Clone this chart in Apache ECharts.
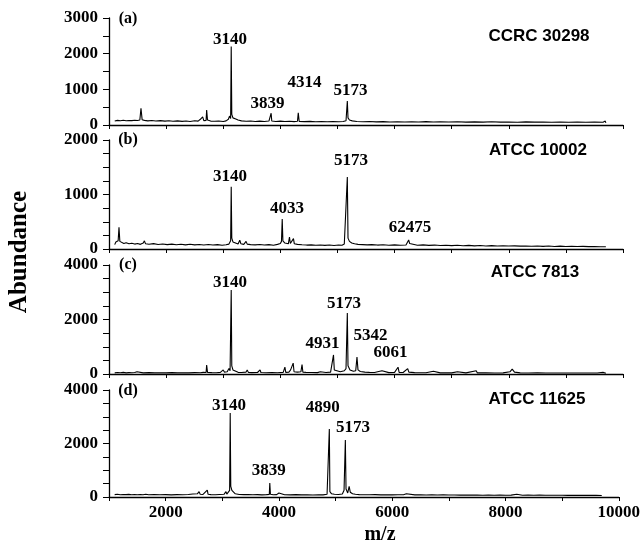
<!DOCTYPE html>
<html>
<head>
<meta charset="utf-8">
<script src="https://cdn.jsdelivr.net/npm/echarts@6/dist/echarts.min.js"></script>
<style>html,body{margin:0;padding:0;background:#fff;}#c{width:643px;height:546px;}</style>
</head>
<body>
<div id="c"></div>
<script>
// ---- data ----
const strains = ["CCRC 30298", "ATCC 10002", "ATCC 7813", "ATCC 11625"];
const panelTags = ["(a)", "(b)", "(c)", "(d)"];
const yMaxes = [3000, 2000, 4000, 4000];
const yTickSteps = [500, 250, 500, 500];
const yLabelSteps = [1000, 1000, 2000, 2000];
const xTicks = [2000, 4000, 6000, 8000, 10000];

const specA = [[1100,110],[1150,130],[1200,120],[1250,135],[1300,118],[1350,128],[1400,122],[1450,132],[1500,125],[1540,140],[1560,470],[1580,150],[1620,130],[1680,115],[1750,125],[1820,110],[1900,122],[1980,108],[2050,118],[2120,105],[2200,115],[2280,102],[2350,112],[2420,100],[2500,118],[2560,108],[2600,160],[2620,110],[2640,230],[2660,120],[2700,130],[2710,420],[2725,140],[2780,110],[2850,105],[2920,112],[3000,100],[3050,115],[3090,160],[3110,250],[3130,180],[3140,2200],[3150,300],[3170,200],[3200,250],[3220,170],[3260,140],[3320,115],[3400,105],[3480,112],[3560,100],[3640,108],[3720,98],[3800,110],[3830,105],[3839,330],[3850,110],[3920,100],[4000,108],[4080,96],[4160,104],[4240,95],[4300,105],[4314,340],[4330,100],[4420,95],[4520,102],[4620,92],[4720,100],[4820,90],[4920,98],[5020,92],[5100,100],[5150,120],[5173,670],[5185,200],[5210,140],[5260,115],[5340,100],[5450,92],[5560,98],[5680,88],[5800,95],[5920,86],[6050,92],[6180,84],[6300,90],[6420,85],[6550,95],[6680,82],[6800,90],[6950,84],[7100,92],[7250,80],[7400,88],[7550,82],[7700,90],[7850,80],[8000,86],[8150,78],[8300,88],[8450,80],[8600,85],[8750,78],[8900,84],[9050,76],[9200,82],[9350,76],[9500,80],[9650,75],[9690,110],[9700,60]];

const specB = [[1100,80],[1120,130],[1140,110],[1160,150],[1175,400],[1190,140],[1220,120],[1260,100],[1300,115],[1350,95],[1400,105],[1450,90],[1500,100],[1550,85],[1600,110],[1620,150],[1640,95],[1700,88],[1780,98],[1860,82],[1940,92],[2020,80],[2100,90],[2180,78],[2260,88],[2340,76],[2420,86],[2500,75],[2580,84],[2660,74],[2740,82],[2820,72],[2900,80],[2980,70],[3050,78],[3100,90],[3130,150],[3140,1140],[3150,200],[3170,130],[3200,100],[3260,90],[3290,160],[3310,95],[3360,85],[3400,140],[3420,90],[3480,80],[3560,75],[3640,82],[3720,72],[3800,80],[3880,70],[3950,85],[4000,100],[4020,140],[4033,550],[4045,150],[4080,110],[4140,95],[4160,220],[4175,100],[4210,90],[4230,190],[4245,95],[4300,85],[4380,78],[4460,72],[4540,76],[4620,68],[4700,74],[4780,66],[4860,72],[4940,65],[5020,72],[5080,70],[5120,90],[5150,120],[5173,1320],[5185,200],[5210,140],[5250,110],[5300,95],[5360,85],[5440,80],[5520,75],[5600,80],[5700,72],[5800,78],[5900,70],[6000,75],[6100,68],[6200,74],[6230,90],[6247,165],[6265,100],[6300,80],[6400,70],[6500,75],[6600,66],[6700,72],[6800,64],[6900,70],[7000,62],[7100,68],[7200,60],[7300,66],[7400,58],[7500,64],[7600,56],[7700,62],[7800,55],[7900,60],[8000,54],[8100,58],[8200,52],[8300,56],[8400,50],[8500,55],[8600,48],[8700,54],[8800,47],[8900,52],[9000,46],[9100,50],[9200,45],[9300,48],[9400,44],[9500,46],[9600,42],[9700,40]];

const specC = [[1100,40],[1150,55],[1200,45],[1250,60],[1300,42],[1350,50],[1400,45],[1450,55],[1490,80],[1510,45],[1600,42],[1700,50],[1800,40],[1900,48],[2000,42],[2100,50],[2200,40],[2300,46],[2400,42],[2500,50],[2600,45],[2650,60],[2700,55],[2710,330],[2725,60],[2800,50],[2880,45],[2950,60],[3000,150],[3020,70],[3070,80],[3100,200],[3120,120],[3140,3080],[3150,300],[3170,150],[3200,90],[3260,60],[3320,55],[3400,70],[3420,150],[3440,60],[3500,50],[3600,55],[3645,150],[3660,55],[3750,45],[3850,50],[3950,45],[4050,60],[4080,250],[4095,60],[4150,70],[4180,150],[4200,80],[4225,400],[4240,80],[4300,70],[4330,120],[4360,80],[4380,350],[4395,70],[4450,60],[4550,55],[4650,50],[4700,80],[4720,50],[4800,55],[4880,70],[4910,120],[4931,700],[4945,150],[4980,100],[5050,80],[5120,120],[5150,200],[5173,2240],[5185,300],[5220,150],[5280,100],[5320,120],[5342,620],[5360,150],[5400,90],[5480,70],[5560,60],[5650,55],[5780,120],[5800,55],[5900,50],[6000,60],[6061,250],[6080,60],[6150,55],[6230,200],[6250,70],[6350,50],[6450,48],[6550,45],[6680,100],[6700,45],[6800,42],[6900,45],[7000,40],[7100,80],[7120,40],[7250,42],[7430,120],[7450,40],[7600,42],[7750,38],[7900,40],[8020,80],[8060,180],[8100,70],[8200,40],[8350,38],[8500,40],[8650,36],[8800,38],[8950,35],[9100,38],[9250,34],[9400,36],[9550,34],[9650,60],[9700,30]];

const specD = [[1100,90],[1150,100],[1200,85],[1250,95],[1300,88],[1350,98],[1400,84],[1450,94],[1500,86],[1550,96],[1600,82],[1650,105],[1700,85],[1800,92],[1900,82],[2000,90],[2100,80],[2200,88],[2300,82],[2400,92],[2480,110],[2500,85],[2560,120],[2590,200],[2610,100],[2640,150],[2660,95],[2735,260],[2750,100],[2800,90],[2880,85],[2950,95],[3030,100],[3065,200],[3080,110],[3110,150],[3130,250],[3140,3140],[3150,400],[3170,250],[3200,200],[3230,120],[3300,95],[3380,88],[3460,92],[3540,82],[3620,90],[3700,80],[3780,88],[3830,95],[3839,520],[3850,100],[3900,85],[3960,90],[4000,150],[4020,90],[4100,85],[4200,80],[4300,88],[4400,78],[4500,85],[4600,76],[4700,84],[4780,80],[4850,100],[4870,150],[4890,2540],[4900,200],[4930,120],[4980,100],[5050,95],[5120,110],[5150,250],[5173,2130],[5185,300],[5200,350],[5215,150],[5240,400],[5260,180],[5300,120],[5350,100],[5420,90],[5500,85],[5600,82],[5700,88],[5800,80],[5900,85],[6000,78],[6100,82],[6200,85],[6250,120],[6280,85],[6400,78],[6500,82],[6600,75],[6700,80],[6800,74],[6900,78],[7000,72],[7100,76],[7200,70],[7300,75],[7400,70],[7500,74],[7600,68],[7700,72],[7800,68],[7900,72],[8000,66],[8100,70],[8200,100],[8230,70],[8300,68],[8400,72],[8500,66],[8600,70],[8700,64],[8800,68],[8900,63],[9000,66],[9100,62],[9200,65],[9300,60],[9400,64],[9500,60],[9600,62],[9700,58]];

// peak annotations: [text, m/z, abundance] (label centre, data units)
const annotA = [["3140",3119,2383],["3839",3777,589],["4314",4424,1177],["5173",5229,953]];
const annotB = [["3140",3119,1321],["4033",4117,734],["5173",5238,1615],["62475",6270,394]];
const annotC = [["3140",3119,3339],["4931",4740,1101],["5173",5116,2569],["5342",5580,1394],["6061",5930,789]];
const annotD = [["3140",3119,3402],["3839",3820,972],["4890",4775,3327],["5173",5310,2598]];

// ---- layout / style ----
const spectra = [specA, specB, specC, specD];
const annots = [annotA, annotB, annotC, annotD];
const gridTops = [18, 140, 265, 390];
const gridHeights = [107, 109, 109, 107];
const GL = 109, GW = 514;
const SERIF = '"Liberation Serif","Times New Roman",serif';
const SANS = '"Liberation Sans",Arial,sans-serif';

const grid = [], xAxis = [], yAxis = [], series = [], graphic = [];
for (let i = 0; i < 4; i++) {
  const last = i === 3;
  grid.push({left: GL, top: gridTops[i], width: GW, height: gridHeights[i]});
  xAxis.push({
    type: 'value', gridIndex: i, min: 1000, max: 10000, interval: 1000,
    axisLine: {show: true, onZero: false, lineStyle: {color: '#000', width: 1.3}},
    axisTick: {show: true, length: 4, lineStyle: {color: '#000', width: 1}},
    splitLine: {show: false},
    axisLabel: {
      show: last, margin: 7, color: '#000', fontFamily: SERIF, fontWeight: 'bold', fontSize: 17,
      formatter: v => xTicks.indexOf(v) >= 0 ? String(v) : ''
    }
  });
  const step = yLabelSteps[i];
  yAxis.push({
    type: 'value', gridIndex: i, min: 0, max: yMaxes[i], interval: yTickSteps[i],
    axisLine: {show: true, lineStyle: {color: '#000', width: 1.3}},
    axisTick: {show: true, length: 6, lineStyle: {color: '#000', width: 1}},
    splitLine: {show: false},
    axisLabel: {
      margin: 11, color: '#000', fontFamily: SERIF, fontWeight: 'bold', fontSize: 17,
      formatter: v => (v % step === 0) ? String(v) : ''
    }
  });
  series.push({
    type: 'line', xAxisIndex: i, yAxisIndex: i, data: spectra[i],
    showSymbol: false, symbol: 'none', smooth: false,
    lineStyle: {color: '#000', width: 1.1}, silent: true, animation: false
  });
  series.push({
    type: 'scatter', xAxisIndex: i, yAxisIndex: i, symbolSize: 0,
    itemStyle: {color: '#000'}, silent: true, animation: false,
    data: annots[i].map(a => ({name: a[0], value: [a[1], a[2]]})),
    label: {
      show: true, position: 'inside', formatter: '{b}', color: '#000', opacity: 1,
      textBorderWidth: 0, textShadowBlur: 0,
      fontFamily: SERIF, fontWeight: 'bold', fontSize: 17
    },
    labelLayout: {hideOverlap: false}
  });
}

const tagY = [19, 140, 265, 391];
const strainPos = [[539, 36], [538, 150], [535, 272], [537, 399]];
for (let i = 0; i < 4; i++) {
  graphic.push({
    type: 'text', x: 128, y: tagY[i],
    style: {text: panelTags[i], textAlign: 'center', textVerticalAlign: 'middle',
      fontFamily: SERIF, fontWeight: 'bold', fontSize: 16, fill: '#000'}
  });
  graphic.push({
    type: 'text', x: strainPos[i][0], y: strainPos[i][1],
    style: {text: strains[i], textAlign: 'center', textVerticalAlign: 'middle',
      fontFamily: SANS, fontWeight: 'bold', fontSize: 17, fill: '#000'}
  });
}
graphic.push({
  type: 'text', x: 20, y: 252, rotation: Math.PI / 2,
  style: {text: 'Abundance', textAlign: 'center', textVerticalAlign: 'middle',
    fontFamily: SERIF, fontWeight: 'bold', fontSize: 25, fill: '#000'}
});
graphic.push({
  type: 'text', x: 380, y: 535,
  style: {text: 'm/z', textAlign: 'center', textVerticalAlign: 'middle',
    fontFamily: SERIF, fontWeight: 'bold', fontSize: 20, fill: '#000'}
});

const chart = echarts.init(document.getElementById('c'), null, {renderer: 'canvas'});
chart.setOption({
  animation: false, backgroundColor: '#fff',
  grid, xAxis, yAxis, series, graphic
});
</script>
</body>
</html>
